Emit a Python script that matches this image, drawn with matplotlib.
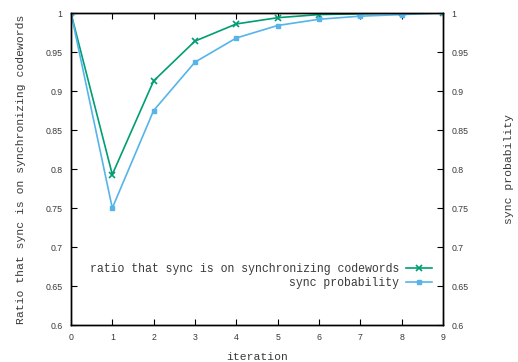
import matplotlib
matplotlib.use("Agg")
import matplotlib.pyplot as plt

iteration = [0, 1, 2, 3, 4, 5, 6, 7, 8, 9]
ratio_on_sync = [1.0, 0.793, 0.913, 0.964, 0.986, 0.994, 0.998, 0.999, 1.0, 1.0]
sync_prob = [1.0, 0.750, 0.875, 0.937, 0.968, 0.984, 0.992, 0.996, 0.998, 1.0]

yticks = [0.6, 0.65, 0.7, 0.75, 0.8, 0.85, 0.9, 0.95, 1]
ytick_labels = ["0.6", "0.65", "0.7", "0.75", "0.8", "0.85", "0.9", "0.95", "1"]

mono = "Liberation Mono"
sans = "Liberation Sans"
txt = "#3a3a3a"

fig = plt.figure(figsize=(5.18, 3.62), dpi=100)
ax = fig.add_axes([0.137, 0.102, 0.718, 0.862])

ax.plot(iteration, ratio_on_sync, color="#009e73", lw=1.2, marker="x",
        ms=4, mew=1.2, label="ratio that sync is on synchronizing codewords")
ax.plot(iteration, sync_prob, color="#56b4e9", lw=1.2, marker="s",
        ms=3, label="sync probability")

ax.set_xlim(0, 9)
ax.set_ylim(0.6, 1)
ax.set_xticks(iteration)
ax.set_yticks(yticks)
ax.set_yticklabels(ytick_labels)
ax.tick_params(direction="in", length=4, width=0.8, labelsize=6.3,
               top=True, pad=6, labelcolor=txt)
for lbl in ax.get_xticklabels() + ax.get_yticklabels():
    lbl.set_fontfamily(sans)

ax.set_xlabel("iteration", family=mono, fontsize=8.2, labelpad=7, color=txt)
ax.set_ylabel("Ratio that sync is on synchronizing codewords", family=mono,
              fontsize=8.2, labelpad=14, color=txt)

ax2 = ax.twinx()
ax2.set_ylim(0.6, 1)
ax2.set_yticks(yticks)
ax2.set_yticklabels(ytick_labels)
ax2.tick_params(direction="in", length=4, width=0.8, labelsize=6.3, pad=6,
                labelcolor=txt)
for lbl in ax2.get_yticklabels():
    lbl.set_fontfamily(sans)
ax2.set_ylabel("sync probability", family=mono, fontsize=8.2, labelpad=26,
               color=txt)

for a in (ax, ax2):
    for s in a.spines.values():
        s.set_linewidth(1.0)

leg = ax.legend(loc="center right", bbox_to_anchor=(0.972, 0.157),
                frameon=False, markerfirst=False, handlelength=2.3,
                handletextpad=0.6, labelspacing=0.2, borderaxespad=0,
                borderpad=0, prop={"family": mono, "size": 8.3})
for t in leg.get_texts():
    t.set_ha("right")
    t.set_color(txt)
leg._legend_box.align = "right"

fig.savefig("out.png", dpi=100)
